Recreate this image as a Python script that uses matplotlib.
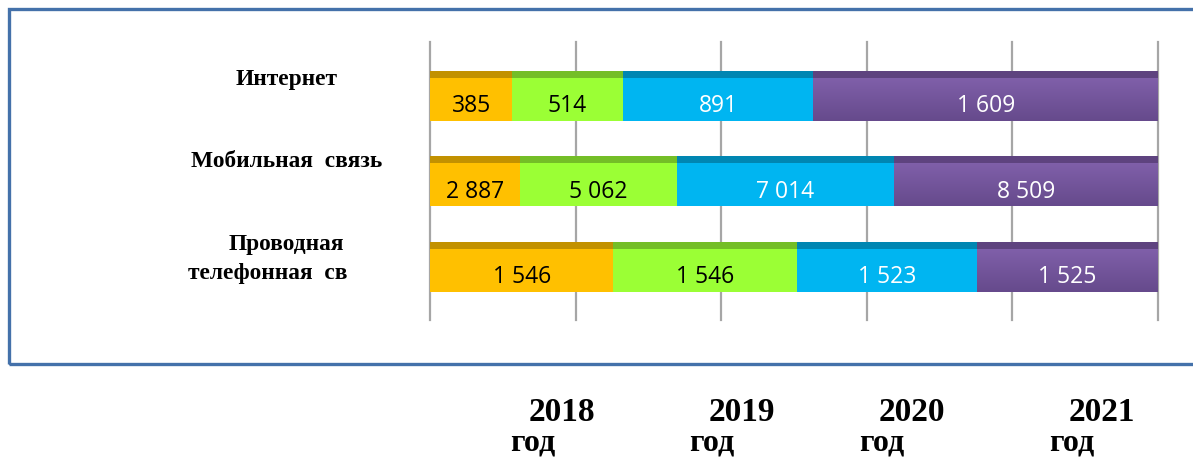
import matplotlib
matplotlib.use("Agg")
import matplotlib.pyplot as plt
import numpy as np
from matplotlib.patches import Rectangle

categories = ["Интернет", "Мобильная  связь", "Проводная телефонная св"]
years = ["2018", "2019", "2020", "2021"]
internet = [385, 514, 891, 1609]
mobile = [2887, 5062, 7014, 8509]
wired = [1546, 1546, 1523, 1525]
value_labels = {
    "internet": ["385", "514", "891", "1 609"],
    "mobile": ["2 887", "5 062", "7 014", "8 509"],
    "wired": ["1 546", "1 546", "1 523", "1 525"],
}

face_colors = ["#FFC000", "#9BFF35", "#00B5F1", "#7A5CA6"]
strip_colors = ["#C29100", "#74BE27", "#0086B2", "#5E437F"]
text_colors = ["black", "black", "white", "white"]

rows = [internet, mobile, wired]
row_labels = [value_labels["internet"], value_labels["mobile"], value_labels["wired"]]

fig = plt.figure(figsize=(11.93, 4.6), dpi=100)
ax = fig.add_axes([430 / 1193, 1 - 321 / 460, 728 / 1193, 278 / 460])

bar_h = 0.585
strip_frac = 0.14

label_font = ["Open Sans", "DejaVu Sans"]

# Vertical gridlines behind the bars
for gx in range(0, 101, 20):
    ax.axvline(gx, color="#A6A6A6", lw=1.6, zorder=0, clip_on=False)

for yi, (vals, labs) in enumerate(zip(rows, row_labels)):
    total = float(sum(vals))
    shares = np.array(vals) / total * 100
    left = 0.0
    for j, (s, lab) in enumerate(zip(shares, labs)):
        ax.barh(yi, s, left=left, height=bar_h, color=face_colors[j],
                edgecolor="none", zorder=2)
        # shaded band along the top edge of each segment
        ax.barh(yi - bar_h / 2 + bar_h * strip_frac / 2, s, left=left,
                height=bar_h * strip_frac, color=strip_colors[j],
                edgecolor="none", zorder=3)
        if j == 3:
            # soft vertical gradient on the last segment
            grad = np.linspace(0, 1, 64).reshape(-1, 1)
            cmap = matplotlib.colors.LinearSegmentedColormap.from_list(
                "pg", ["#8060AA", "#664A8C"])
            ax.imshow(grad, extent=(left, left + s, yi + bar_h / 2,
                                    yi - bar_h / 2 + bar_h * strip_frac),
                      aspect="auto", cmap=cmap, zorder=2.5,
                      interpolation="bilinear")
        ax.text(left + s / 2, yi + bar_h * strip_frac / 2 + 0.07, lab,
                ha="center", va="center", fontsize=16.5,
                color=text_colors[j], family=label_font, zorder=4)
        left += s

ax.set_xlim(0, 100)
ax.set_ylim(2.62, -0.63)
ax.set_axis_off()

# Category names on the left
serif = ["Liberation Serif", "DejaVu Serif"]
ytr = ax.get_yaxis_transform()
cat_fs = 16.8
ax.text(-0.197, 0.0 - 0.2, "Интернет", transform=ytr,
        ha="center", va="center", fontsize=cat_fs, fontweight="bold", family=serif)
ax.text(-0.197, 1.0 - 0.24, "Мобильная  связь", transform=ytr,
        ha="center", va="center", fontsize=cat_fs, fontweight="bold", family=serif)
ax.text(-0.197, 2.0 - 0.28, "Проводная", transform=ytr,
        ha="center", va="center", fontsize=cat_fs, fontweight="bold", family=serif)
ax.text(-0.223, 2.0 + 0.06, "телефонная  св", transform=ytr,
        ha="center", va="center", fontsize=cat_fs, fontweight="bold", family=serif)

# Outer frame
fig.add_artist(Rectangle((9 / 1193, 1 - 365 / 460), 1.2, (365 - 10) / 460,
                         transform=fig.transFigure, fill=False,
                         edgecolor="#4471AA", lw=2.4))

# Year captions below the frame
year_x = [562, 742, 912, 1102]
god_x = [533, 712, 882, 1072]
for yr, xa, xb in zip(years, year_x, god_x):
    fig.text(xa / 1193, 1 - 413 / 460, yr, ha="center", va="center",
             fontsize=24, fontweight="bold", family=serif)
    fig.text(xb / 1193, 1 - 443 / 460, "год", ha="center", va="center",
             fontsize=23, fontweight="bold", family=serif)

fig.savefig("out.png", dpi=100, facecolor="white")
